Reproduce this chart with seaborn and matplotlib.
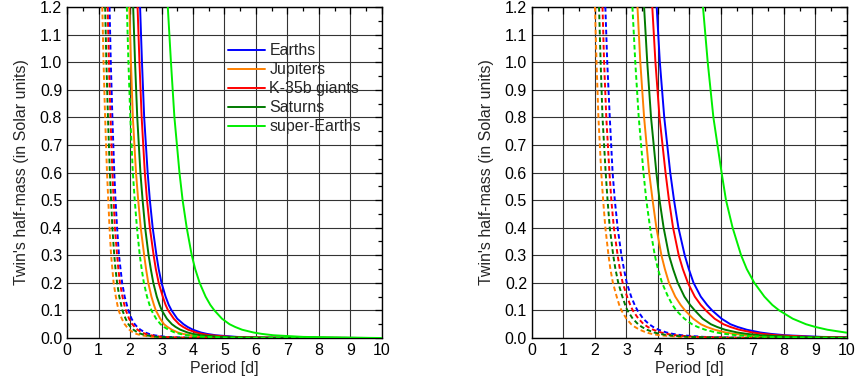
import numpy as np
import pandas as pd
import matplotlib
matplotlib.use("Agg")
import matplotlib.pyplot as plt
from matplotlib.lines import Line2D
from matplotlib.ticker import MultipleLocator, FormatStrFormatter
import seaborn as sns

# Twin half-mass levels (Solar units) at which the period of each curve was read
MASS_LEVELS = [1.2, 1.0, 0.8, 0.6, 0.5, 0.4, 0.3, 0.25, 0.2, 0.15, 0.12, 0.1,
               0.07, 0.05, 0.04, 0.03, 0.02, 0.015, 0.01, 0.004, 0.001, 0.0]

PLANETS = ["Earths", "Jupiters", "K-35b giants", "Saturns", "super-Earths"]

# Left panel, periods [d] at MASS_LEVELS
left_solid = {
    "Earths":       [2.32, 2.38, 2.45, 2.56, 2.63, 2.72, 2.84, 2.91, 3.00, 3.13, 3.23, 3.32, 3.50, 3.70, 3.83, 4.00, 4.25, 4.44, 4.72, 5.40, 6.65, 10.0],
    "Jupiters":     [1.98, 2.03, 2.09, 2.19, 2.26, 2.34, 2.45, 2.51, 2.58, 2.68, 2.76, 2.82, 2.96, 3.08, 3.19, 3.33, 3.52, 3.68, 3.92, 4.50, 5.60, 10.0],
    "K-35b giants": [2.24, 2.30, 2.37, 2.47, 2.54, 2.63, 2.75, 2.82, 2.91, 3.04, 3.13, 3.21, 3.39, 3.56, 3.69, 3.85, 4.10, 4.28, 4.55, 5.20, 6.40, 10.0],
    "Saturns":      [2.10, 2.16, 2.23, 2.33, 2.40, 2.48, 2.59, 2.66, 2.74, 2.85, 2.94, 3.01, 3.17, 3.33, 3.45, 3.60, 3.83, 4.00, 4.25, 4.85, 6.00, 10.0],
    "super-Earths": [3.20, 3.30, 3.41, 3.57, 3.67, 3.80, 3.96, 4.07, 4.21, 4.40, 4.55, 4.68, 4.92, 5.16, 5.34, 5.56, 5.92, 6.18, 6.55, 7.50, 9.20, 10.0],
}
left_dashed = {
    "Earths":       [1.35, 1.39, 1.44, 1.50, 1.54, 1.59, 1.65, 1.70, 1.75, 1.83, 1.90, 1.95, 2.05, 2.15, 2.23, 2.33, 2.48, 2.60, 2.76, 3.15, 3.90, 10.0],
    "Jupiters":     [1.12, 1.16, 1.21, 1.27, 1.31, 1.35, 1.40, 1.44, 1.48, 1.55, 1.60, 1.64, 1.74, 1.83, 1.90, 1.98, 2.10, 2.20, 2.35, 2.70, 3.30, 10.0],
    "K-35b giants": [1.29, 1.33, 1.38, 1.44, 1.48, 1.52, 1.59, 1.63, 1.68, 1.76, 1.82, 1.87, 1.97, 2.07, 2.15, 2.24, 2.38, 2.49, 2.65, 3.02, 3.70, 10.0],
    "Saturns":      [1.21, 1.25, 1.30, 1.36, 1.40, 1.44, 1.50, 1.54, 1.59, 1.66, 1.72, 1.76, 1.86, 1.95, 2.02, 2.11, 2.24, 2.35, 2.50, 2.85, 3.50, 10.0],
    "super-Earths": [1.90, 1.95, 2.01, 2.09, 2.15, 2.22, 2.31, 2.37, 2.44, 2.54, 2.62, 2.68, 2.83, 2.97, 3.08, 3.22, 3.42, 3.59, 3.82, 4.40, 5.40, 10.0],
}

# Right panel, periods [d] at MASS_LEVELS
right_solid = {
    "Earths":       [3.96, 4.06, 4.20, 4.39, 4.51, 4.65, 4.85, 4.98, 5.13, 5.36, 5.56, 5.72, 6.02, 6.30, 6.53, 6.82, 7.25, 7.58, 8.05, 9.20, 11.4, 10.0],
    "Jupiters":     [3.35, 3.44, 3.56, 3.72, 3.83, 3.95, 4.11, 4.22, 4.35, 4.55, 4.72, 4.86, 5.12, 5.36, 5.55, 5.80, 6.15, 6.42, 6.80, 7.80, 9.60, 10.0],
    "K-35b giants": [3.82, 3.92, 4.05, 4.24, 4.35, 4.48, 4.66, 4.79, 4.95, 5.17, 5.36, 5.52, 5.80, 6.08, 6.30, 6.58, 7.00, 7.32, 7.78, 8.90, 11.0, 10.0],
    "Saturns":      [3.56, 3.66, 3.78, 3.95, 4.05, 4.18, 4.35, 4.48, 4.63, 4.84, 5.02, 5.17, 5.42, 5.68, 5.88, 6.13, 6.52, 6.82, 7.25, 8.30, 10.2, 10.0],
    "super-Earths": [5.43, 5.58, 5.76, 6.02, 6.16, 6.37, 6.64, 6.82, 7.06, 7.38, 7.63, 7.85, 8.28, 8.70, 9.00, 9.38, 9.95, 10.4, 11.0, 12.6, 15.4, np.nan],
}
right_dashed = {
    "Earths":       [2.33, 2.39, 2.47, 2.56, 2.63, 2.72, 2.84, 2.92, 3.01, 3.15, 3.26, 3.35, 3.53, 3.72, 3.85, 4.02, 4.27, 4.47, 4.75, 5.45, 6.70, 10.0],
    "Jupiters":     [2.00, 2.05, 2.11, 2.20, 2.26, 2.33, 2.43, 2.49, 2.57, 2.69, 2.77, 2.84, 3.00, 3.15, 3.27, 3.42, 3.63, 3.80, 4.05, 4.65, 5.70, 10.0],
    "K-35b giants": [2.24, 2.29, 2.36, 2.46, 2.52, 2.60, 2.72, 2.79, 2.88, 3.02, 3.12, 3.20, 3.38, 3.55, 3.68, 3.85, 4.10, 4.29, 4.55, 5.20, 6.40, 10.0],
    "Saturns":      [2.13, 2.18, 2.24, 2.34, 2.40, 2.47, 2.58, 2.65, 2.74, 2.87, 2.96, 3.03, 3.20, 3.37, 3.49, 3.65, 3.88, 4.06, 4.32, 4.95, 6.10, 10.0],
    "super-Earths": [3.19, 3.28, 3.39, 3.54, 3.63, 3.75, 3.90, 4.00, 4.13, 4.32, 4.46, 4.58, 4.84, 5.08, 5.26, 5.50, 5.85, 6.12, 6.50, 7.45, 9.20, 10.0],
}

colors = {
    "Earths": "#0000ff",
    "Jupiters": "#ff8000",
    "K-35b giants": "#ff0000",
    "Saturns": "#007a00",
    "super-Earths": "#00ee00",
}


def to_frame(solid, dashed):
    rows = []
    for kind, table in (("solid", solid), ("dashed", dashed)):
        for planet in PLANETS:
            for p, m in zip(table[planet], MASS_LEVELS):
                rows.append({"period": p, "mass": m, "planet": planet, "kind": kind})
    return pd.DataFrame(rows).dropna()


sns.set_style("white")
plt.rcParams["font.family"] = ["Liberation Sans", "DejaVu Sans"]

FS = 11.5

fig = plt.figure(figsize=(8.58, 3.87), dpi=100)
axes = [
    fig.add_axes([0.0781, 0.1266, 0.3671, 0.8553]),
    fig.add_axes([0.6200, 0.1266, 0.3671, 0.8553]),
]

for ax, (solid, dashed) in zip(axes, [(left_solid, left_dashed), (right_solid, right_dashed)]):
    df = to_frame(solid, dashed)
    sns.lineplot(
        data=df, x="period", y="mass", hue="planet", style="kind",
        hue_order=PLANETS, style_order=["solid", "dashed"],
        palette=colors, dashes={"solid": "", "dashed": (2.4, 1.5)},
        estimator=None, sort=False, linewidth=1.4, legend=False,
        ax=ax, zorder=3,
    )
    ax.set_xlim(0, 10)
    ax.set_ylim(0, 1.2)
    ax.xaxis.set_major_locator(MultipleLocator(1))
    ax.xaxis.set_minor_locator(MultipleLocator(0.5))
    ax.yaxis.set_major_locator(MultipleLocator(0.1))
    ax.yaxis.set_minor_locator(MultipleLocator(0.05))
    ax.yaxis.set_major_formatter(FormatStrFormatter("%.1f"))
    ax.tick_params(which="both", direction="in", top=True, right=True,
                   labelsize=FS, colors="black", width=0.9)
    ax.tick_params(which="major", length=5)
    ax.tick_params(which="minor", length=3)
    ax.grid(True, which="major", color="#333333", linewidth=0.8)
    for s in ax.spines.values():
        s.set_color("black")
        s.set_linewidth(1.0)
    ax.set_xlabel("Period [d]", fontsize=FS, labelpad=2)
    ax.set_ylabel("Twin's half-mass (in Solar units)", fontsize=FS, labelpad=8)

handles = [Line2D([0], [0], color=colors[p], lw=1.4) for p in PLANETS]
axes[0].legend(handles, PLANETS, loc="upper left", bbox_to_anchor=(0.511, 0.89),
               frameon=False, fontsize=FS, handlelength=2.3, handletextpad=0.3,
               labelspacing=0.25, borderaxespad=0, borderpad=0)

fig.savefig("out.png", dpi=100)
